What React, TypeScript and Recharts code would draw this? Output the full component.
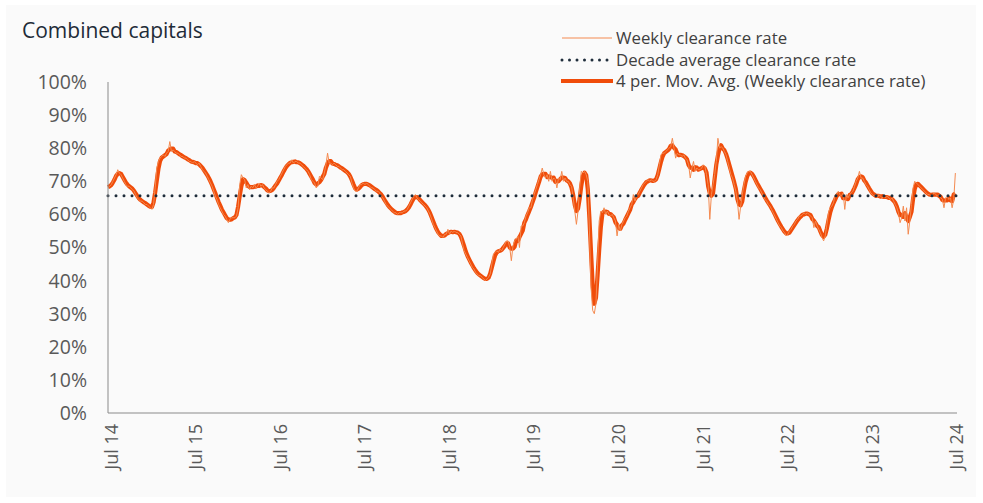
import React from 'react';
import { LineChart, Line, XAxis, YAxis, ReferenceLine } from 'recharts';

const yearLabels = ['Jul 14', 'Jul 15', 'Jul 16', 'Jul 17', 'Jul 18', 'Jul 19', 'Jul 20', 'Jul 21', 'Jul 22', 'Jul 23', 'Jul 24'];
const tickWeeks = [2, 54, 106, 158, 210, 262, 314, 366, 418, 470, 522];
const yTicks = [0, 10, 20, 30, 40, 50, 60, 70, 80, 90, 100];
const decadeAverage = 65.6;

const weekly2014 = [
  68, 68.5, 69, 70, 71, 72, 73.5, 72.5, 72, 71,
  70, 69, 68.5, 68.5, 68, 67.5, 67, 66, 65, 64.5,
  64, 64, 63.5, 63, 63, 62.5, 62, 61.5, 63, 68,
  74, 76, 77, 77.5, 78, 77.5, 78.5, 79, 82, 79,
  79.5, 79, 78.5, 78.5, 78, 77.5, 77.5, 77, 77, 76.5,
  76, 76,
];
const weekly2015 = [
  75.5, 76, 75.5, 75, 75.5, 74.5, 73.5, 73, 72.5, 71.5,
  70.5, 69.5, 68.5, 67, 65.5, 64.5, 63, 62, 61, 60,
  59.5, 58.5, 57.5, 58.5, 59, 59, 59, 59.5, 62, 69,
  72, 71, 70.5, 68, 69, 67.5, 68.5, 68, 69, 68,
  68.5, 69.5, 68.5, 69, 68, 67.5, 67, 66.5, 67, 68,
  68, 69,
];
const weekly2016 = [
  70, 70.5, 71.5, 72.5, 73.5, 74.5, 75, 75.5, 75.5, 76.5,
  75.5, 76, 76, 75.5, 75.5, 75, 74.5, 74, 73.5, 73,
  72, 70.5, 70, 69.5, 68, 68.5, 71.5, 71, 70.5, 72.5,
  75, 78.5, 75.5, 75.5, 75, 75.5, 75, 74.5, 74.5, 74,
  73.5, 73.5, 73, 72.5, 72, 71.5, 69.5, 68, 67, 67,
  68, 69,
];
const weekly2017 = [
  69, 69.5, 69, 69.5, 69, 68.5, 68, 68, 67.5, 67,
  67, 66.5, 65.5, 65, 64, 63, 62.5, 62, 61.5, 61,
  60.5, 60.5, 60, 60.5, 60.5, 60.5, 61, 61, 61.5, 62.5,
  63.5, 64.5, 65.5, 66, 65, 64.5, 64, 63.5, 63, 62.5,
  62, 61, 60, 58.5, 57, 56, 55, 54, 53.5, 53.5,
  53, 54,
];
const weekly2018 = [
  54, 55.5, 54, 55, 54.5, 55, 54.5, 54.5, 54, 53.5,
  51, 49, 48, 47, 46, 45, 44, 43.5, 42.5, 42,
  41.5, 41.5, 41, 40.5, 40, 40.5, 41, 42, 45, 48,
  48.5, 49, 48.5, 49.5, 49, 50, 51, 52, 52, 50,
  46, 50.5, 52, 52.5, 53.5, 50, 56.5, 56.5, 57.5, 59.5,
  60.5, 62,
];
const weekly2019 = [
  62, 64.5, 66, 67.5, 69, 70.5, 72, 74, 72, 71,
  72, 70, 73, 70, 71, 70.5, 68, 71, 70.5, 73,
  70, 71, 70, 70, 69, 68.5, 65, 61, 57, 61,
  68, 73, 72.5, 73, 72, 70, 55, 38, 31, 30,
  33, 45, 58, 61, 60.5, 62, 60, 61, 60, 59.5,
  60, 59,
];
const weekly2020 = [
  58, 53.5, 57, 55, 57, 58, 59, 59.5, 61, 62,
  63, 66, 64, 65.5, 66, 67, 68, 69, 69.5, 70,
  70.5, 70, 70.5, 70, 70, 70.5, 72, 75, 78, 78.5,
  78.5, 79, 79.5, 80, 80.5, 83, 80, 77, 78.5, 78,
  78, 77.5, 78, 77, 76.5, 75, 71, 74, 76, 73,
  74, 73.5,
];
const weekly2021 = [
  73.5, 74, 75, 74.5, 72, 69, 58.5, 66, 69, 72,
  76, 83, 80, 80.5, 80, 79, 78, 76, 74, 72,
  71, 69, 67, 64, 58.5, 62.5, 66, 69, 71.5, 72.5,
  73, 73, 72, 71, 70, 69, 68, 67.5, 66.5, 65.5,
  64.5, 64, 63, 62.5, 61.5, 60.5, 59.5, 58.5, 57.5, 56.5,
  56, 55,
];
const weekly2022 = [
  54.5, 53.5, 54, 55, 55.5, 56.5, 57, 58, 58.5, 59.5,
  59.5, 60, 60.5, 60, 60.5, 60, 59.5, 59, 56, 58,
  56.5, 55.5, 54.5, 53, 52, 53.5, 57, 60.5, 62, 62.5,
  63.5, 65.5, 66, 67, 66, 65.5, 66.5, 61.5, 66, 65,
  66, 66.5, 67, 68.5, 70, 71, 73, 71, 71, 70,
  69, 68.5,
];
const weekly2023 = [
  67.5, 66.5, 66, 65.5, 66, 65, 66, 65.5, 65, 65.5,
  65, 65.5, 65, 64.5, 65, 64, 63, 62, 60.5, 57.5,
  59, 62.5, 58, 62, 54, 58, 63, 68, 70, 69.5,
  69, 68.5, 68, 67.5, 67, 66.5, 66, 66, 65.5, 66,
  66.5, 66, 65.5, 66, 65, 64.5, 62, 65, 65.5, 64.5,
  65, 62, 64.5, 72.5,
];

const weeklyRate = [
  ...weekly2014, ...weekly2015, ...weekly2016, ...weekly2017, ...weekly2018,
  ...weekly2019, ...weekly2020, ...weekly2021, ...weekly2022, ...weekly2023,
];

const data = weeklyRate.map((v, i) => {
  const lo = Math.max(0, i - 2);
  const hi = Math.min(weeklyRate.length - 1, i + 1);
  let s = 0;
  for (let k = lo; k <= hi; k++) s += weeklyRate[k];
  return { week: i, rate: v, ma: s / (hi - lo + 1) };
});

const FONT = '"Open Sans", "DejaVu Sans", sans-serif';
const THIN = '#f48a50';
const THICK = '#f04c0a';
const NAVY = '#1f2d3b';

const XTick = (props: any) => {
  const { x, y, payload } = props;
  const idx = tickWeeks.indexOf(payload.value);
  return (
    <text
      x={x}
      y={y}
      transform={`rotate(-90, ${x}, ${y})`}
      textAnchor="end"
      dy="0.35em"
      fill="#595959"
      fontSize={18}
      fontFamily={FONT}
    >
      {yearLabels[idx]}
    </text>
  );
};

export default function App() {
  return (
    <div style={{ position: 'absolute', left: 0, top: 0, width: 983, height: 503, background: '#ffffff' }}>
      <div style={{ position: 'absolute', left: 6, top: 5, width: 970, height: 492, background: '#fafafa' }} />
      <div style={{ position: 'absolute', left: 0, top: 0 }}>
        <LineChart width={983} height={503} data={data} margin={{ top: 82, right: 26, bottom: 0, left: 0 }}>
          <XAxis
            dataKey="week"
            type="number"
            domain={[0, 522]}
            ticks={tickWeeks}
            tick={<XTick />}
            tickLine={false}
            tickSize={0}
            tickMargin={11}
            height={90}
            interval={0}
            axisLine={{ stroke: '#8a8a8a', strokeWidth: 1 }}
          />
          <YAxis
            type="number"
            domain={[0, 100]}
            ticks={yTicks}
            interval={0}
            tickFormatter={(v: number) => `${v}%`}
            tickLine={false}
            tickSize={0}
            tickMargin={21}
            width={108}
            axisLine={{ stroke: '#8a8a8a', strokeWidth: 1 }}
            tick={{ fill: '#595959', fontSize: 19.5, fontFamily: FONT }}
          />
          <Line
            dataKey="ma"
            stroke={THICK}
            strokeWidth={4.2}
            dot={false}
            activeDot={false}
            isAnimationActive={false}
            strokeLinejoin="round"
          />
          <Line
            dataKey="rate"
            stroke={THIN}
            strokeWidth={1}
            dot={false}
            activeDot={false}
            isAnimationActive={false}
          />
          <ReferenceLine
            y={decadeAverage}
            stroke={NAVY}
            strokeWidth={3}
            strokeDasharray="0 8"
            strokeLinecap="round"
          />
        </LineChart>
      </div>
      <svg width={983} height={120} style={{ position: 'absolute', left: 0, top: 0 }}>
        <text x={22} y={38} fontSize={21} fill="#1e2b38" fontFamily={FONT}>
          Combined capitals
        </text>
        <line x1={562} x2={612} y1={38} y2={38} stroke={THIN} strokeWidth={1.2} />
        <text x={616} y={44} fontSize={16.8} fill="#404040" fontFamily={FONT}>
          Weekly clearance rate
        </text>
        <line x1={562} x2={612} y1={60} y2={60} stroke={NAVY} strokeWidth={3} strokeDasharray="0 7.5" strokeLinecap="round" />
        <text x={616} y={66} fontSize={16.8} fill="#404040" fontFamily={FONT}>
          Decade average clearance rate
        </text>
        <line x1={561} x2={613} y1={81} y2={81} stroke={THICK} strokeWidth={4} />
        <text x={616} y={87} fontSize={16.8} fill="#404040" fontFamily={FONT}>
          4 per. Mov. Avg. (Weekly clearance rate)
        </text>
      </svg>
    </div>
  );
}
